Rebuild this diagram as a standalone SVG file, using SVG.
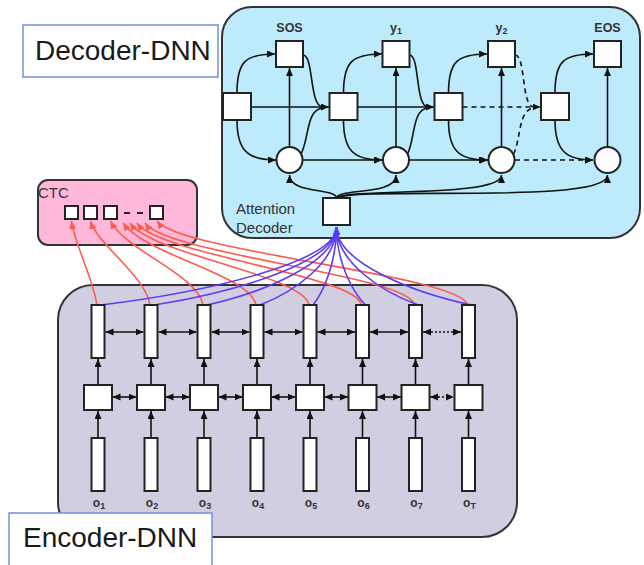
<svg xmlns="http://www.w3.org/2000/svg" width="644" height="565" viewBox="0 0 644 565">
<defs>
<marker id="ak" markerUnits="userSpaceOnUse" markerWidth="9" markerHeight="8" refX="8" refY="3.5" orient="auto-start-reverse"><path d="M0,0 L8,3.5 L0,7 z" fill="#111"/></marker>
<marker id="ar" markerUnits="userSpaceOnUse" markerWidth="9" markerHeight="8" refX="8" refY="3.5" orient="auto"><path d="M0,0 L8,3.5 L0,7 z" fill="#ff5a4c"/></marker>
<marker id="ab" markerUnits="userSpaceOnUse" markerWidth="9" markerHeight="8" refX="8" refY="3.5" orient="auto"><path d="M0,0 L8,3.5 L0,7 z" fill="#5b3cf5"/></marker>
</defs>
<style>
.box{fill:#fff;stroke:#222;stroke-width:2}
.ln{fill:none;stroke:#111;stroke-width:1.6}
.dash{stroke-dasharray:5,4}
.dot{stroke-dasharray:2,2}
.red{fill:none;stroke:#ff5a4c;stroke-width:1.6}
.blue{fill:none;stroke:#5b3cf5;stroke-width:1.6}
.lbl{font-family:"Liberation Sans",Arial,sans-serif;font-weight:bold;font-size:12.5px;fill:#333;text-anchor:middle}
.olbl{font-family:"Liberation Sans",Arial,sans-serif;font-weight:bold;font-size:12px;fill:#333;text-anchor:middle}
.big{font-family:"Liberation Sans",Arial,sans-serif;font-size:28px;fill:#1a1a1a}
.small{font-family:"Liberation Sans",Arial,sans-serif;font-size:15px;fill:#333}
</style>

<!-- containers -->
<g id="decoder-dnn">
<rect x="222" y="7" width="418" height="231" rx="30" fill="#bdebfb" stroke="#333" stroke-width="2"/>
</g>
<g id="encoder-dnn">
<rect x="58" y="285" width="459" height="252" rx="35" fill="#d1cee2" stroke="#333" stroke-width="2"/>
</g>
<g id="ctc">
<rect x="38" y="180" width="159" height="65" rx="10" fill="#ffb8da" stroke="#333" stroke-width="2"/>
<text class="small" x="38" y="198">CTC</text>
</g>

<!-- connectors -->
<g id="connectors">
<!-- decoder segment internal -->
<path class="ln" d="M237,93 C237,62 245,54 275,54" marker-end="url(#ak)"/>
<path class="ln" d="M237,120 C237,150 247,160 276,160" marker-end="url(#ak)"/>
<path class="ln" d="M289.5,147 L289.5,68" marker-end="url(#ak)"/>
<path class="ln" d="M343.5,93 C343.5,62 352,54 382,54" marker-end="url(#ak)"/>
<path class="ln" d="M343.5,120 C343.5,150 353,160 382,160" marker-end="url(#ak)"/>
<path class="ln" d="M396,147 L396,68" marker-end="url(#ak)"/>
<path class="ln" d="M448.5,93 C448.5,62 457,54 487,54" marker-end="url(#ak)"/>
<path class="ln" d="M448.5,120 C448.5,150 458,160 487,160" marker-end="url(#ak)"/>
<path class="ln" d="M501.5,147 L501.5,68" marker-end="url(#ak)"/>
<path class="ln" d="M555,93 C555,62 563,54 593,54" marker-end="url(#ak)"/>
<path class="ln" d="M555,120 C555,150 565,160 593,160" marker-end="url(#ak)"/>
<path class="ln" d="M607.5,147 L607.5,68" marker-end="url(#ak)"/>
<!-- transitions 0->1 -->
<path class="ln" d="M251,107 L329,107" marker-end="url(#ak)"/>
<path class="ln" d="M303,160 L382,160" marker-end="url(#ak)"/>
<path class="ln" d="M303,55 C314,55 309,107 323,107"/>
<path class="ln" d="M301,154 C309,140 306,109 323,108"/>
<!-- transitions 1->2 -->
<path class="ln" d="M357.5,107 L434,107" marker-end="url(#ak)"/>
<path class="ln" d="M409,160 L488,160" marker-end="url(#ak)"/>
<path class="ln" d="M409.5,55 C420,55 415,107 428,107"/>
<path class="ln" d="M407.5,154 C415,140 412,109 428,108"/>
<!-- transitions 2->3 dashed -->
<path class="ln dash" d="M462.5,107 L540.5,107" marker-end="url(#ak)"/>
<path class="ln dash" d="M515,160 L593,160" marker-end="url(#ak)"/>
<path class="ln dash" d="M515,55 C526,55 521,107 534,107"/>
<path class="ln dash" d="M513.5,154 C521,140 518,109 534,108"/>
<!-- attention to circles -->
<path class="ln" d="M336.5,198 C336.5,188 289.5,194 289.5,175" marker-end="url(#ak)"/>
<path class="ln" d="M336.5,198 C338,188 396,196 396,175" marker-end="url(#ak)"/>
<path class="ln" d="M336.5,198 C345,188 501.5,198 501.5,175" marker-end="url(#ak)"/>
<path class="ln" d="M336.5,198 C360,186 607.5,205 607.5,175" marker-end="url(#ak)"/>

<!-- encoder vertical arrows -->
<path class="ln" d="M98,385 L98,359" marker-end="url(#ak)"/>
<path class="ln" d="M151,385 L151,359" marker-end="url(#ak)"/>
<path class="ln" d="M204,385 L204,359" marker-end="url(#ak)"/>
<path class="ln" d="M257,385 L257,359" marker-end="url(#ak)"/>
<path class="ln" d="M310,385 L310,359" marker-end="url(#ak)"/>
<path class="ln" d="M362.5,385 L362.5,359" marker-end="url(#ak)"/>
<path class="ln" d="M415.5,385 L415.5,359" marker-end="url(#ak)"/>
<path class="ln" d="M468.5,385 L468.5,359" marker-end="url(#ak)"/>
<path class="ln" d="M98,438 L98,411" marker-end="url(#ak)"/>
<path class="ln" d="M151,438 L151,411" marker-end="url(#ak)"/>
<path class="ln" d="M204,438 L204,411" marker-end="url(#ak)"/>
<path class="ln" d="M257,438 L257,411" marker-end="url(#ak)"/>
<path class="ln" d="M310,438 L310,411" marker-end="url(#ak)"/>
<path class="ln" d="M362.5,438 L362.5,411" marker-end="url(#ak)"/>
<path class="ln" d="M415.5,438 L415.5,411" marker-end="url(#ak)"/>
<path class="ln" d="M468.5,438 L468.5,411" marker-end="url(#ak)"/>
<!-- encoder horizontal double arrows, top -->
<path class="ln" d="M105.5,332 L143.5,332" marker-start="url(#ak)" marker-end="url(#ak)"/>
<path class="ln" d="M158.5,332 L196.5,332" marker-start="url(#ak)" marker-end="url(#ak)"/>
<path class="ln" d="M211.5,332 L249.5,332" marker-start="url(#ak)" marker-end="url(#ak)"/>
<path class="ln" d="M264.5,332 L302.5,332" marker-start="url(#ak)" marker-end="url(#ak)"/>
<path class="ln" d="M317.5,332 L355,332" marker-start="url(#ak)" marker-end="url(#ak)"/>
<path class="ln" d="M370,332 L408,332" marker-start="url(#ak)" marker-end="url(#ak)"/>
<path class="ln dot" d="M423,332 L461,332" marker-start="url(#ak)" marker-end="url(#ak)"/>
<!-- encoder horizontal double arrows, middle -->
<path class="ln" d="M112.5,397 L136.5,397" marker-start="url(#ak)" marker-end="url(#ak)"/>
<path class="ln" d="M165.5,397 L189.5,397" marker-start="url(#ak)" marker-end="url(#ak)"/>
<path class="ln" d="M218.5,397 L242.5,397" marker-start="url(#ak)" marker-end="url(#ak)"/>
<path class="ln" d="M271.5,397 L295.5,397" marker-start="url(#ak)" marker-end="url(#ak)"/>
<path class="ln" d="M324.5,397 L348,397" marker-start="url(#ak)" marker-end="url(#ak)"/>
<path class="ln" d="M377,397 L401,397" marker-start="url(#ak)" marker-end="url(#ak)"/>
<path class="ln dot" d="M430,397 L454,397" marker-start="url(#ak)" marker-end="url(#ak)"/>

<!-- CTC red lines -->
<path class="red" d="M97,305 C92,275 74.7,245 71.5,221" marker-end="url(#ar)"/>
<path class="red" d="M150,305 C145,275 97.5,245 90.5,221" marker-end="url(#ar)"/>
<path class="red" d="M203,305 C198,275 125,250 110.5,221" marker-end="url(#ar)"/>
<path class="red" d="M256,305 C251,275 145,255 123,223" marker-end="url(#ar)"/>
<path class="red" d="M309,305 C304,275 152,255 130,223" marker-end="url(#ar)"/>
<path class="red" d="M361.5,305 C356,275 160,255 137,223" marker-end="url(#ar)"/>
<path class="red" d="M414.5,305 C409,275 168,255 145,223" marker-end="url(#ar)"/>
<path class="red" d="M467.5,305 C462,275 180,252 157,221" marker-end="url(#ar)"/>

<!-- attention blue lines -->
<path class="blue" d="M101,305 C207,292 336.5,262 336.5,227" marker-end="url(#ab)"/>
<path class="blue" d="M154,305 C236,292 336.5,262 336.5,227" marker-end="url(#ab)"/>
<path class="blue" d="M207,305 C265,292 336.5,262 336.5,227" marker-end="url(#ab)"/>
<path class="blue" d="M260,305 C294,292 336.5,262 336.5,227" marker-end="url(#ab)"/>
<path class="blue" d="M313,305 C323.6,292 336.5,262 336.5,227" marker-end="url(#ab)"/>
<path class="blue" d="M365.5,305 C352.5,292 336.5,262 336.5,227" marker-end="url(#ab)"/>
<path class="blue" d="M418.5,305 C381.6,292 336.5,262 336.5,227" marker-end="url(#ab)"/>
<path class="blue" d="M471.5,305 C410.75,292 336.5,262 336.5,227" marker-end="url(#ab)"/>
</g>

<!-- decoder nodes -->
<g id="out-sos"><rect class="box" x="276" y="41" width="27" height="26"/><text class="lbl" x="289.5" y="32">SOS</text></g>
<g id="out-y1"><rect class="box" x="382.5" y="41" width="27" height="26"/><text class="lbl" x="396" y="32">y<tspan font-size="9" dy="2">1</tspan></text></g>
<g id="out-y2"><rect class="box" x="488" y="41" width="27" height="26"/><text class="lbl" x="501.5" y="32">y<tspan font-size="9" dy="2">2</tspan></text></g>
<g id="out-eos"><rect class="box" x="594" y="41" width="27" height="26"/><text class="lbl" x="607.5" y="32">EOS</text></g>
<g id="state-1"><rect class="box" x="223" y="93" width="28" height="27"/></g>
<g id="state-2"><rect class="box" x="329.5" y="93" width="28" height="27"/></g>
<g id="state-3"><rect class="box" x="434.5" y="93" width="28" height="27"/></g>
<g id="state-4"><rect class="box" x="541" y="93" width="28" height="27"/></g>
<g id="ctx-1"><circle class="box" cx="289.5" cy="160" r="13"/></g>
<g id="ctx-2"><circle class="box" cx="396" cy="160" r="13"/></g>
<g id="ctx-3"><circle class="box" cx="501.5" cy="160" r="13"/></g>
<g id="ctx-4"><circle class="box" cx="607.5" cy="160" r="13"/></g>
<g id="attention-decoder"><rect class="box" x="323" y="198" width="27" height="27"/>
<text class="small" x="236" y="214">Attention</text><text class="small" x="236" y="233">Decoder</text></g>

<!-- CTC nodes -->
<g id="ctc-1"><rect class="box" x="65" y="206" width="13" height="13"/></g>
<g id="ctc-2"><rect class="box" x="84" y="206" width="13" height="13"/></g>
<g id="ctc-3"><rect class="box" x="104" y="206" width="13" height="13"/></g>
<g id="ctc-dashes"><path d="M124,213 L130,213 M137,213 L143,213" stroke="#222" stroke-width="2"/></g>
<g id="ctc-T"><rect class="box" x="150" y="206" width="13" height="13"/></g>

<!-- encoder nodes -->
<g id="enc-1"><rect class="box" x="91.5" y="305" width="13" height="53"/><rect class="box" x="84" y="385" width="28" height="25"/><rect class="box" x="91.5" y="438" width="13" height="53"/><text class="olbl" x="99" y="507">o<tspan font-size="9" dy="2">1</tspan></text></g>
<g id="enc-2"><rect class="box" x="144.5" y="305" width="13" height="53"/><rect class="box" x="137" y="385" width="28" height="25"/><rect class="box" x="144.5" y="438" width="13" height="53"/><text class="olbl" x="152" y="507">o<tspan font-size="9" dy="2">2</tspan></text></g>
<g id="enc-3"><rect class="box" x="197.5" y="305" width="13" height="53"/><rect class="box" x="190" y="385" width="28" height="25"/><rect class="box" x="197.5" y="438" width="13" height="53"/><text class="olbl" x="205" y="507">o<tspan font-size="9" dy="2">3</tspan></text></g>
<g id="enc-4"><rect class="box" x="250.5" y="305" width="13" height="53"/><rect class="box" x="243" y="385" width="28" height="25"/><rect class="box" x="250.5" y="438" width="13" height="53"/><text class="olbl" x="258" y="507">o<tspan font-size="9" dy="2">4</tspan></text></g>
<g id="enc-5"><rect class="box" x="303.5" y="305" width="13" height="53"/><rect class="box" x="296" y="385" width="28" height="25"/><rect class="box" x="303.5" y="438" width="13" height="53"/><text class="olbl" x="311" y="507">o<tspan font-size="9" dy="2">5</tspan></text></g>
<g id="enc-6"><rect class="box" x="356" y="305" width="13" height="53"/><rect class="box" x="348.5" y="385" width="28" height="25"/><rect class="box" x="356" y="438" width="13" height="53"/><text class="olbl" x="363.5" y="507">o<tspan font-size="9" dy="2">6</tspan></text></g>
<g id="enc-7"><rect class="box" x="409" y="305" width="13" height="53"/><rect class="box" x="401.5" y="385" width="28" height="25"/><rect class="box" x="409" y="438" width="13" height="53"/><text class="olbl" x="416.5" y="507">o<tspan font-size="9" dy="2">7</tspan></text></g>
<g id="enc-T"><rect class="box" x="462" y="305" width="13" height="53"/><rect class="box" x="454.5" y="385" width="28" height="25"/><rect class="box" x="462" y="438" width="13" height="53"/><text class="olbl" x="469.5" y="507">o<tspan font-size="9" dy="2">T</tspan></text></g>

<!-- title labels -->
<g id="label-decoder"><rect x="23" y="25" width="195" height="52" fill="#fff" stroke="#7094d4" stroke-width="1.5"/><text class="big" x="35" y="60">Decoder-DNN</text></g>
<g id="label-encoder"><rect x="9" y="513" width="203" height="56" fill="#fff" stroke="#7094d4" stroke-width="1.5"/><text class="big" x="23" y="547">Encoder-DNN</text></g>
</svg>
